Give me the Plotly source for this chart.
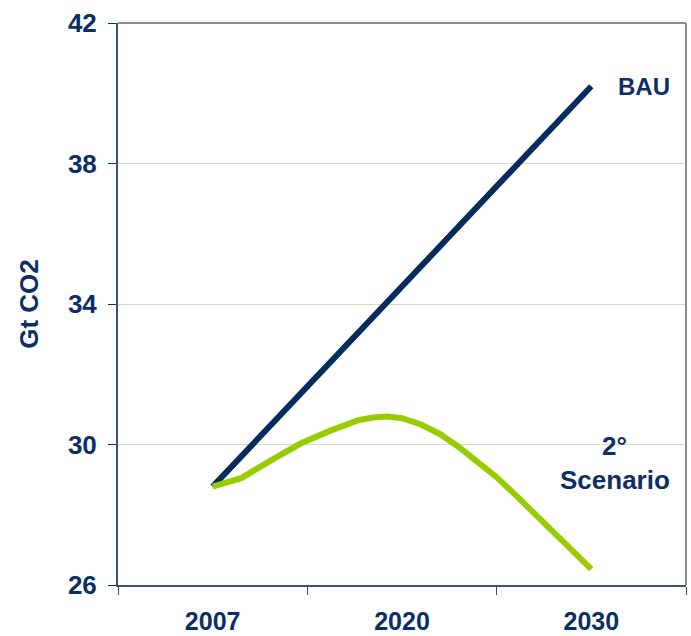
import numpy as np
import plotly.graph_objects as go

# Category labels on the x axis and the years they stand for
tick_labels = ["2007", "2020", "2030"]
tick_years = [2007, 2020, 2030]

# Business-as-usual emissions path (Gt CO2)
bau_years = [2007, 2030]
bau_values = [28.8, 40.2]

# 2 degree scenario emissions path (Gt CO2)
scen_years = [2007, 2009, 2011, 2013, 2015, 2017, 2018, 2019, 2020,
              2021, 2022, 2023, 2024, 2025, 2026, 2027, 2028, 2029, 2030]
scen_values = [28.80, 29.05, 29.55, 30.02, 30.38, 30.69, 30.77, 30.80, 30.75,
               30.57, 30.30, 29.93, 29.50, 29.07, 28.56, 28.04, 27.51, 26.98, 26.45]

NAVY = "#0c2f66"
LINE_NAVY = "#062c5e"
GREEN = "#99cc00"
FONT = "Liberation Sans, Arial, sans-serif"


def year_pos(years):
    # each labelled year sits in the middle of its own slot
    return np.interp(years, tick_years, list(range(len(tick_years))))


fig = go.Figure()
fig.add_trace(go.Scatter(
    x=year_pos(bau_years), y=bau_values, mode="lines",
    line=dict(color=LINE_NAVY, width=6), name="BAU", showlegend=False,
))
fig.add_trace(go.Scatter(
    x=year_pos(scen_years), y=scen_values, mode="lines",
    line=dict(color=GREEN, width=6), name="2° Scenario", showlegend=False,
))

fig.add_annotation(x=year_pos([2030])[0], y=bau_values[-1], text="<b>BAU</b>",
                   showarrow=False, xanchor="center", yanchor="middle", xshift=53,
                   font=dict(family=FONT, size=24, color=NAVY))
fig.add_annotation(x=year_pos([2030])[0], y=29.96, text="<b>2°</b>",
                   showarrow=False, xanchor="center", yanchor="middle", xshift=23,
                   font=dict(family=FONT, size=26, color=NAVY))
fig.add_annotation(x=year_pos([2030])[0], y=29.0, text="<b>Scenario</b>",
                   showarrow=False, xanchor="center", yanchor="middle", xshift=24,
                   font=dict(family=FONT, size=26, color=NAVY))

# grey frame on the top and right of the plot area
fig.add_shape(type="line", xref="paper", yref="paper", x0=0, x1=1, y0=1, y1=1,
              line=dict(color="#8c8c8c", width=2))
fig.add_shape(type="line", xref="paper", yref="paper", x0=1, x1=1, y0=0, y1=1,
              line=dict(color="#8c8c8c", width=2))

fig.update_layout(
    width=691, height=636,
    margin=dict(l=118, r=5, t=23, b=51),
    plot_bgcolor="white", paper_bgcolor="white",
    font=dict(family=FONT, color=NAVY),
    xaxis=dict(
        range=[-0.5, 2.5], tickmode="array", automargin=False,
        tickvals=list(range(len(tick_labels))), ticktext=[f"<b>{t}</b>" for t in tick_labels],
        ticks="", showgrid=False, zeroline=False,
        showline=True, linecolor="#3c5278", linewidth=2,
        tickfont=dict(family=FONT, size=25, color=NAVY),
        ticklabelstandoff=13,
        minor=dict(tickmode="array", tickvals=[-0.5, 0.5, 1.5, 2.5],
                   ticks="outside", ticklen=8, tickcolor="#3c5278", tickwidth=1,
                   showgrid=False),
    ),
    yaxis=dict(
        range=[26, 42], tickmode="array", tickvals=[26, 30, 34, 38, 42], automargin=False,
        ticktext=["<b>26</b>", "<b>30</b>", "<b>34</b>", "<b>38</b>", "<b>42</b>"],
        ticks="outside", ticklen=8, tickcolor=NAVY, tickwidth=1,
        showgrid=True, gridcolor="#d9d6c3", gridwidth=1, zeroline=False,
        showline=True, linecolor="#3c5278", linewidth=2,
        tickfont=dict(family=FONT, size=26, color=NAVY),
        ticklabelstandoff=6,
        title=dict(text="<b>Gt CO2</b>", font=dict(family=FONT, size=26, color=NAVY),
                   standoff=22),
    ),
)

fig.write_html("out.html")
